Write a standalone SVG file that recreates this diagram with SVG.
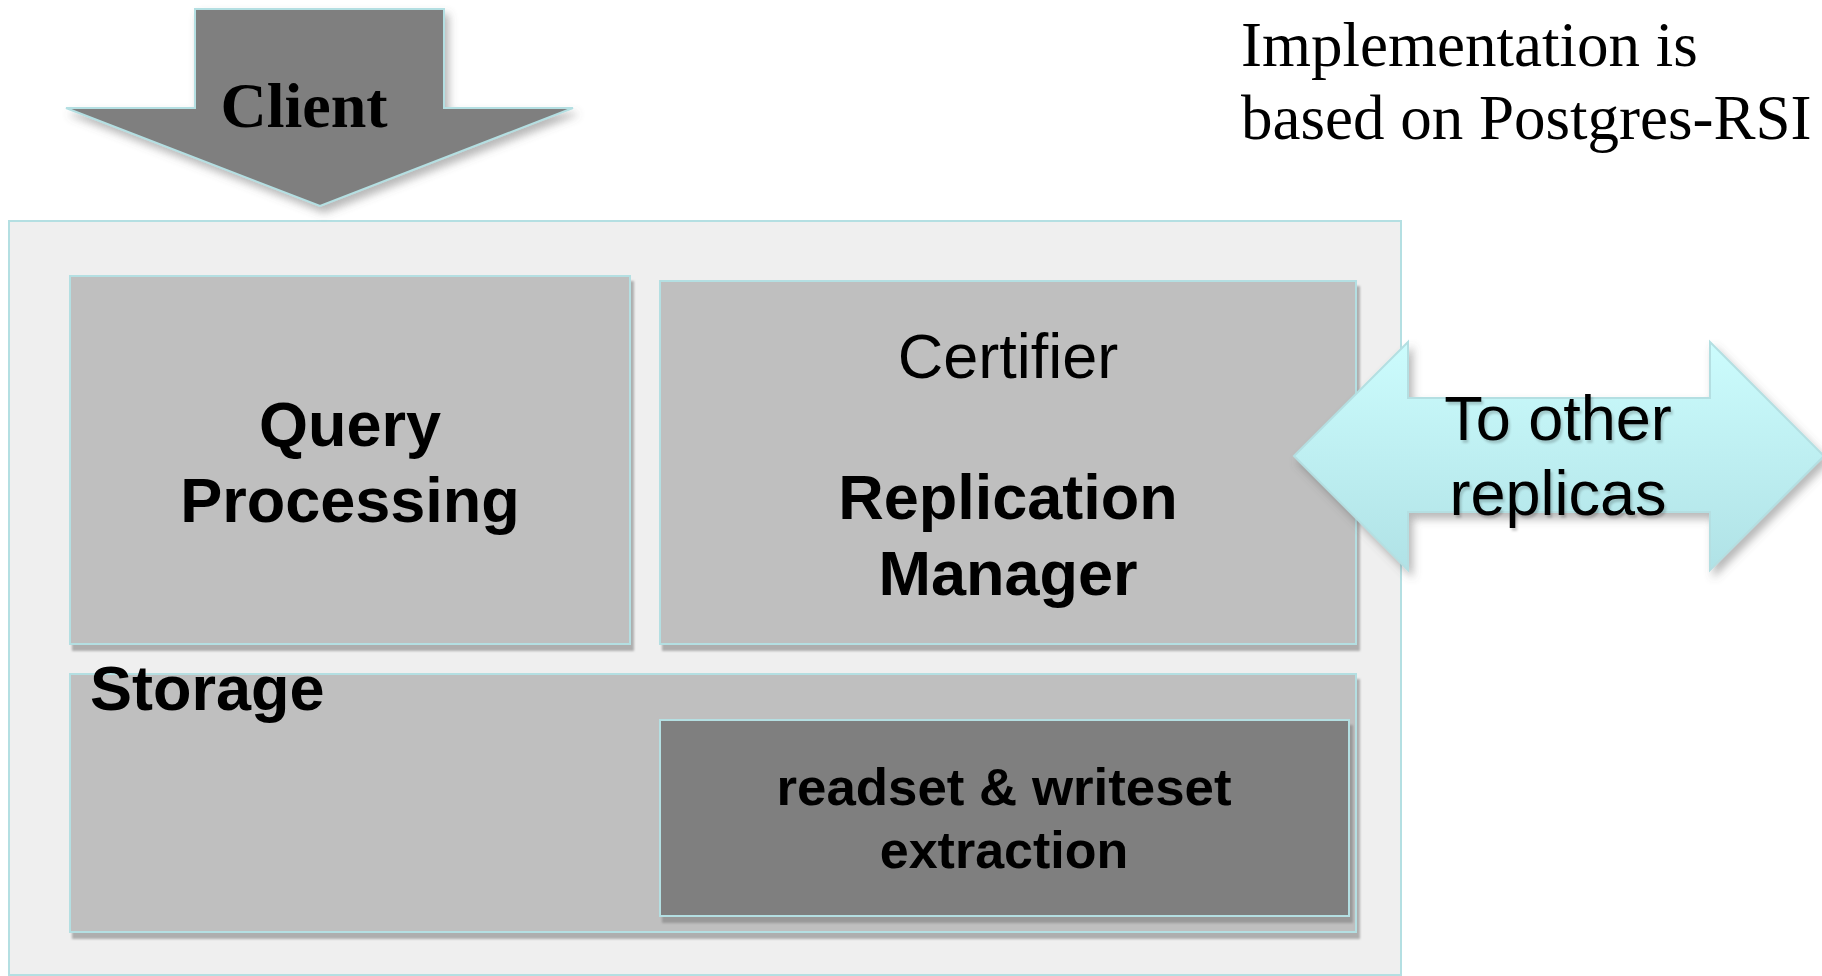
<svg xmlns="http://www.w3.org/2000/svg" width="1822" height="976" viewBox="0 0 1822 976">
<defs>
<style>
.box{fill:#bfbfbf;stroke:#b4dfe2;stroke-width:2}
.dark{fill:#7f7f7f;stroke:#b4dfe2;stroke-width:2}
.outer{fill:#efefef;stroke:#b4dfe2;stroke-width:2}
.sans{font-family:"Liberation Sans",Arial,sans-serif;fill:#000}
.bold{font-weight:bold}
.serif{font-family:"Liberation Serif","Times New Roman",serif;fill:#000}
</style>
<filter id="sh" x="-5%" y="-5%" width="115%" height="120%">
<feDropShadow dx="3" dy="6" stdDeviation="1.2" flood-color="#7a7a7a" flood-opacity="0.55"/>
</filter>
<filter id="soft" x="-10%" y="-10%" width="125%" height="130%">
<feDropShadow dx="4" dy="6" stdDeviation="4" flood-color="#606060" flood-opacity="0.45"/>
</filter>
<filter id="tsh" x="-5%" y="-5%" width="115%" height="130%">
<feDropShadow dx="2" dy="3" stdDeviation="1" flood-color="#000" flood-opacity="0.18"/>
</filter>
<linearGradient id="cyan" x1="0" y1="0" x2="0" y2="1">
<stop offset="0" stop-color="#ccfcfd"/>
<stop offset="1" stop-color="#b0e2e6"/>
</linearGradient>
</defs>

<g id="container">
<rect class="outer" x="9" y="221" width="1392" height="754"/>
</g>

<g id="query-processing">
<rect class="box" x="70" y="276" width="560" height="368" filter="url(#sh)"/>
<text class="sans bold" font-size="63" text-anchor="middle" x="350" y="446">Query</text>
<text class="sans bold" font-size="63" text-anchor="middle" x="350" y="522">Processing</text>
</g>

<g id="replication-manager">
<rect class="box" x="660" y="281" width="696" height="363" filter="url(#sh)"/>
<text class="sans" font-size="63" text-anchor="middle" x="1008" y="378">Certifier</text>
<text class="sans bold" font-size="63" text-anchor="middle" x="1008" y="519">Replication</text>
<text class="sans bold" font-size="63" text-anchor="middle" x="1008" y="595">Manager</text>
</g>

<g id="storage">
<rect class="box" x="70" y="674" width="1286" height="258" filter="url(#sh)"/>
<text class="sans bold" font-size="63" x="90" y="710">Storage</text>
</g>

<g id="readset-extraction">
<rect class="dark" x="660" y="720" width="689" height="196" filter="url(#sh)"/>
<text class="sans bold" font-size="52" text-anchor="middle" x="1004" y="805" textLength="455" lengthAdjust="spacingAndGlyphs">readset &amp; writeset</text>
<text class="sans bold" font-size="52" text-anchor="middle" x="1004" y="868">extraction</text>
</g>

<g id="client">
<polygon class="dark" points="195,9 444,9 444,108 573,108 320,206 66,108 195,108" filter="url(#soft)"/>
<text class="serif bold" font-size="64" text-anchor="middle" x="304" y="127">Client</text>
</g>

<g id="to-other-replicas">
<polygon points="1294,456 1408,342 1408,398 1710,398 1710,342 1824,456 1710,570 1710,512 1408,512 1408,570" fill="url(#cyan)" stroke="#b4dfe2" stroke-width="2" filter="url(#soft)"/>
<g filter="url(#tsh)">
<text class="sans" font-size="63" text-anchor="middle" x="1558" y="440">To other</text>
<text class="sans" font-size="63" text-anchor="middle" x="1558" y="515">replicas</text>
</g>
</g>

<g id="note">
<text class="serif" font-size="63" x="1241" y="66">Implementation is</text>
<text class="serif" font-size="63" x="1241" y="139">based on Postgres-RSI</text>
</g>

<g id="connectors"></g>
</svg>
